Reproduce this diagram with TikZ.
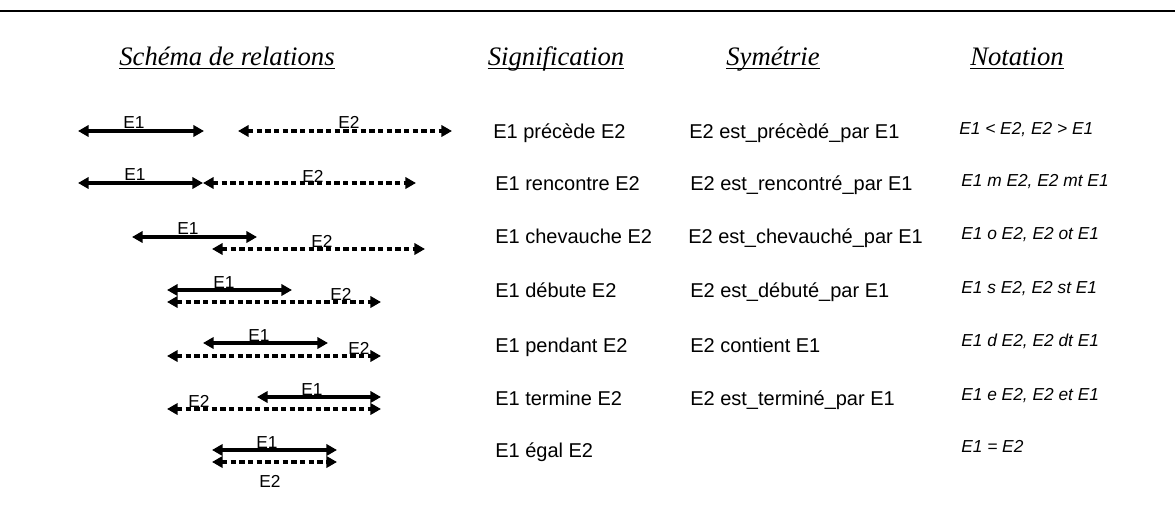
\documentclass[tikz,border=0pt]{standalone}
\usepackage{fontspec}
\setmainfont{Liberation Sans}
\newfontfamily\hdrfont{Liberation Serif}
\usetikzlibrary{arrows.meta}
\tikzstyle{eone} = [line width=2.8pt,{Triangle[length=8pt,width=8.5pt]}-{Triangle[length=8pt,width=8.5pt]}]
\tikzstyle{etwo} = [eone,line width=2.5pt,dash pattern=on 4pt off 2.5pt]
\tikzstyle{hdr} = [anchor=base,inner sep=0pt,font=\hdrfont\itshape\fontsize{20}{24}\selectfont]
\tikzstyle{txt} = [anchor=base west,inner sep=0pt,font=\fontsize{15}{18}\selectfont]
\tikzstyle{nota} = [anchor=base west,inner sep=0pt,font=\itshape\fontsize{13}{16}\selectfont]
\tikzstyle{lbl} = [anchor=base,inner sep=0pt,font=\fontsize{13}{15}\selectfont]
\tikzstyle{uline} = [line width=1pt]

\begin{document}
\begin{tikzpicture}[x=0.75pt,y=-0.75pt]
  \useasboundingbox (0,0) rectangle (1175,508);
  \draw[line width=2pt] (0,11) -- (1175,11);
  \node[hdr] (h1) at (227,65) {Schéma de relations};
  \node[hdr] (h2) at (556,65) {Signification};
  \node[hdr] (h3) at (773,65) {Symétrie};
  \node[hdr] (h4) at (1017,65) {Notation};
  \draw[uline] ([yshift=-2.5pt]h1.base west) -- ([yshift=-2.5pt]h1.base east);
  \draw[uline] ([yshift=-2.5pt]h2.base west) -- ([yshift=-2.5pt]h2.base east);
  \draw[uline] ([yshift=-2.5pt]h3.base west) -- ([yshift=-2.5pt]h3.base east);
  \draw[uline] ([yshift=-2.5pt]h4.base west) -- ([yshift=-2.5pt]h4.base east);

  \coordinate (a1) at (78,131);
  \coordinate (b1) at (204,131);
  \coordinate (c1) at (238,131);
  \coordinate (d1) at (452,131);
  \draw[eone] (a1) -- (b1);
  \draw[etwo] (c1) -- (d1);
  \node[lbl] (e1r1) at (134,128) {E1};
  \node[lbl] (e2r1) at (349,128) {E2};

  \coordinate (a2) at (78,183);
  \coordinate (b2) at (203,183);
  \coordinate (d2) at (416,183);
  \draw[eone] (a2) -- (b2);
  \draw[etwo] (b2) -- (d2);
  \node[lbl] (e1r2) at (135,180) {E1};
  \node[lbl] (e2r2) at (313,182) {E2};

  \coordinate (a3) at (132,237);
  \coordinate (b3) at (257,237);
  \coordinate (c3) at (212,249);
  \coordinate (d3) at (425,249);
  \draw[eone] (a3) -- (b3);
  \draw[etwo] (c3) -- (d3);
  \node[lbl] (e1r3) at (188,234) {E1};
  \node[lbl] (e2r3) at (322,247) {E2};

  \coordinate (a4) at (167,290);
  \coordinate (b4) at (292,290);
  \coordinate (c4) at (167,302);
  \coordinate (d4) at (381,302);
  \draw[eone] (a4) -- (b4);
  \draw[etwo] (c4) -- (d4);
  \node[lbl] (e1r4) at (224,288) {E1};
  \node[lbl] (e2r4) at (341,300) {E2};

  \coordinate (a5) at (203,343);
  \coordinate (b5) at (328,343);
  \coordinate (c5) at (167,356);
  \coordinate (d5) at (381,356);
  \draw[eone] (a5) -- (b5);
  \draw[etwo] (c5) -- (d5);
  \node[lbl] (e1r5) at (259,341) {E1};
  \node[lbl] (e2r5) at (359,354) {E2};

  \coordinate (a6) at (257,397);
  \coordinate (b6) at (381,397);
  \coordinate (c6) at (167,409);
  \coordinate (d6) at (381,409);
  \draw[eone] (a6) -- (b6);
  \draw[etwo] (c6) -- (d6);
  \node[lbl] (e1r6) at (312,395) {E1};
  \node[lbl] (e2r6) at (199,407) {E2};

  \coordinate (a7) at (212,450);
  \coordinate (b7) at (337,450);
  \coordinate (c7) at (212,462);
  \coordinate (d7) at (337,462);
  \draw[eone] (a7) -- (b7);
  \draw[etwo] (c7) -- (d7);
  \node[lbl] (e1r7) at (267,448) {E1};
  \node[lbl] (e2r7) at (270,487) {E2};

  \node[txt] (s1) at (493,138) {E1 précède E2};
  \node[txt] (s2) at (495,190) {E1 rencontre E2};
  \node[txt] (s3) at (495,243) {E1 chevauche E2};
  \node[txt] (s4) at (495,297) {E1 débute E2};
  \node[txt] (s5) at (495,352) {E1 pendant E2};
  \node[txt] (s6) at (495,405) {E1 termine E2};
  \node[txt] (s7) at (495,457) {E1 égal E2};

  \node[txt] (y1) at (689,138) {E2 est\_précèdé\_par E1};
  \node[txt] (y2) at (690,190) {E2 est\_rencontré\_par E1};
  \node[txt] (y3) at (688,243) {E2 est\_chevauché\_par E1};
  \node[txt] (y4) at (690,297) {E2 est\_débuté\_par E1};
  \node[txt] (y5) at (690,352) {E2 contient E1};
  \node[txt] (y6) at (690,405) {E2 est\_terminé\_par E1};

  \node[nota] (n1) at (959,134) {E1 < E2, E2 > E1};
  \node[nota] (n2) at (961,186) {E1 m E2, E2 mt E1};
  \node[nota] (n3) at (961,239) {E1 o E2, E2 ot E1};
  \node[nota] (n4) at (961,293) {E1 s E2, E2 st E1};
  \node[nota] (n5) at (961,346) {E1 d E2, E2 dt E1};
  \node[nota] (n6) at (961,400) {E1 e E2, E2 et E1};
  \node[nota] (n7) at (961,452) {E1 = E2};
\end{tikzpicture}
\end{document}
